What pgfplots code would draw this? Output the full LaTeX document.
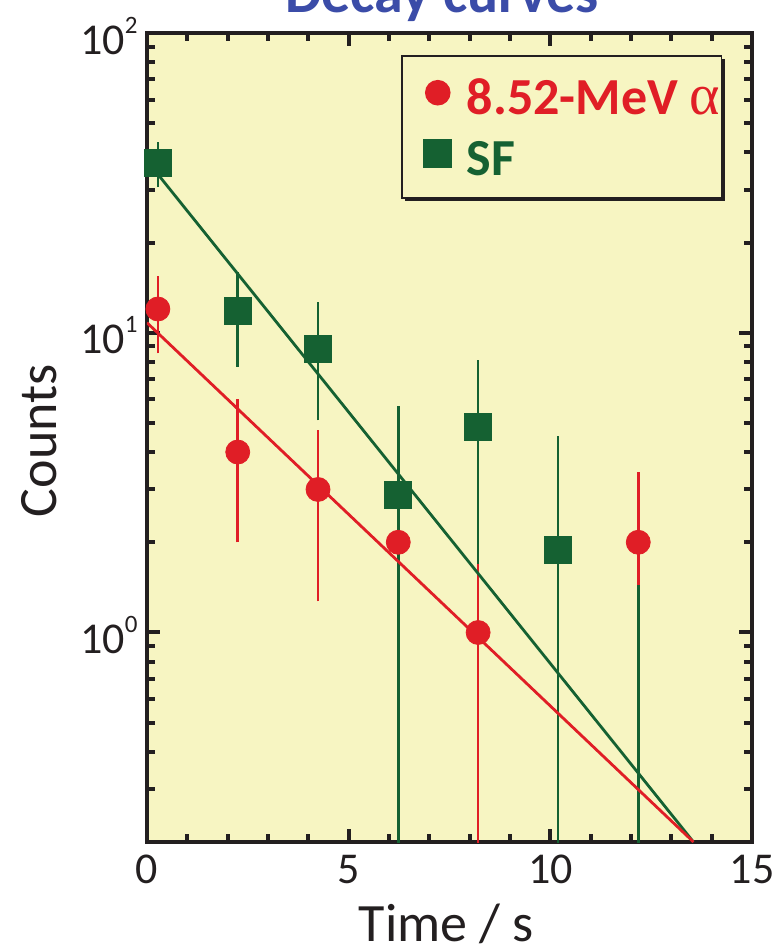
\documentclass[border=0pt]{standalone}
\usepackage{pgfplots}
\pgfplotsset{compat=1.18}
\usepackage{fontspec}
\setmainfont{Carlito}
\newfontfamily\greekfont{Liberation Serif}
\usetikzlibrary{shadows}
\definecolor{bgy}{HTML}{F7F5C2}
\definecolor{ared}{HTML}{E01E26}
\definecolor{sfgreen}{HTML}{156132}
\definecolor{tblue}{HTML}{3B4CA8}
\definecolor{axk}{HTML}{231F20}
\newcommand{\tpow}[1]{10\raisebox{10.5pt}{\fontsize{12.5}{12.5}\selectfont #1}}
\begin{document}
\begin{tikzpicture}
\begin{axis}[name=ax, scale only axis, width=302.5pt, height=404.5pt,
  ymode=log, xmin=0, xmax=15, ymin=0.2, ymax=100,
  axis background/.style={fill=bgy},
  axis line style={line width=2pt, axk},
  xtick={0,5,10,15}, xticklabels={0,5,10,15},
  minor xtick={1,2,3,4,6,7,8,9,11,12,13,14},
  ytick={1,10,100}, yticklabels={\tpow{0},\tpow{1},\tpow{2}},
  minor ytick={0.2,0.3,0.4,0.5,0.6,0.7,0.8,0.9,2,3,4,5,6,7,8,9,20,30,40,50,60,70,80,90},
  tick align=inside,
  major tick length=6.5pt, minor tick length=3.8pt,
  every tick/.style={axk, line width=2pt},
  ticklabel style={font=\fontsize{22}{22}\selectfont, text=axk, inner sep=0pt},
  xticklabel style={anchor=base, yshift=-20.5pt},
  yticklabel style={anchor=base east, xshift=-4.5pt, yshift=-10.5pt},
  xlabel={Time / s},
  xlabel style={font=\fontsize{27}{27}\selectfont, text=axk, inner sep=0pt, at={(axis description cs:0.495,-0.123)}, anchor=base},
  ylabel={Counts},
  ylabel style={font=\fontsize{27}{27}\selectfont, text=axk, inner sep=0pt, at={(axis description cs:-0.150,0.496)}, anchor=base},
  unbounded coords=jump,
  legend style={at={(axis description cs:0.4198,0.9728)}, anchor=north west, fill=bgy, draw=axk, line width=0.8pt,
    inner xsep=5.5pt, inner ysep=11.5pt, row sep=12.5pt, column sep=0pt,
    drop shadow={shadow xshift=1.6pt, shadow yshift=-1.6pt, opacity=1, fill=axk},
    nodes={inner sep=0pt, anchor=base west, text depth=0pt},
    font=\fontsize{26}{26}\selectfont\bfseries},
  legend cell align=left,
  legend image code/.code={\path[draw=none] (0pt,0pt) (27pt,0pt); \draw[#1, draw=none, only marks] plot coordinates {(12.5pt,11pt)};},
]
% SF error bars
\addplot[sfgreen, line width=1.25pt, forget plot] coordinates {
(0.27,30.6) (0.27,43.2) (0.27,nan)
(2.25,7.7) (2.25,16.0) (2.25,nan)
(4.24,5.1) (4.24,12.7) (4.24,nan)
(6.23,0.01) (6.23,5.71) (6.23,nan)
(8.21,0.01) (8.21,8.13) (8.21,nan)
(10.19,0.01) (10.19,4.54) (10.19,nan)
(12.18,0.01) (12.18,1.44)
};
% alpha error bars
\addplot[ared, line width=1.25pt, forget plot] coordinates {
(0.27,8.54) (0.27,15.46) (0.27,nan)
(2.25,2.0) (2.25,6.0) (2.25,nan)
(4.24,1.27) (4.24,4.73) (4.24,nan)
(8.21,0.01) (8.21,1.69) (8.21,nan)
(12.18,1.44) (12.18,3.44)
};
% fit lines
\addplot[sfgreen, line width=1.4pt, forget plot] coordinates {(0,37.5) (13.55,0.2)};
\addplot[ared, line width=1.4pt, forget plot] coordinates {(0,10.8) (13.55,0.2)};
% data points
\addplot[ared, only marks, mark=*, mark size=6pt, mark options={fill=ared, draw=none}] coordinates {
(0.27,12) (2.25,4) (4.24,3) (6.23,2) (8.21,1) (12.18,2)
};
\addlegendentry{\makebox[121.8pt][l]{\textcolor{ared}{8.52-MeV {\mdseries\greekfont\fontsize{29}{29}\selectfont α}}}}
\addplot[sfgreen, only marks, mark=square*, mark size=6.75pt, mark options={fill=sfgreen, draw=none}] coordinates {
(0.27,36.9) (2.25,11.8) (4.24,8.85) (6.23,2.88) (8.21,4.86) (10.19,1.88)
};
\addlegendentry{\makebox[121.8pt][l]{\textcolor{sfgreen}{SF}}}
\end{axis}
\node[anchor=base, font=\fontsize{29}{29}\selectfont\bfseries, text=tblue, inner sep=0pt] at ([xshift=147.5pt, yshift=10pt]ax.north west) {Decay curves};
\pgfresetboundingbox
\path[use as bounding box] ([xshift=-73.5pt, yshift=-54pt]ax.south west) rectangle ++(388pt,475pt);
\end{tikzpicture}
\end{document}
